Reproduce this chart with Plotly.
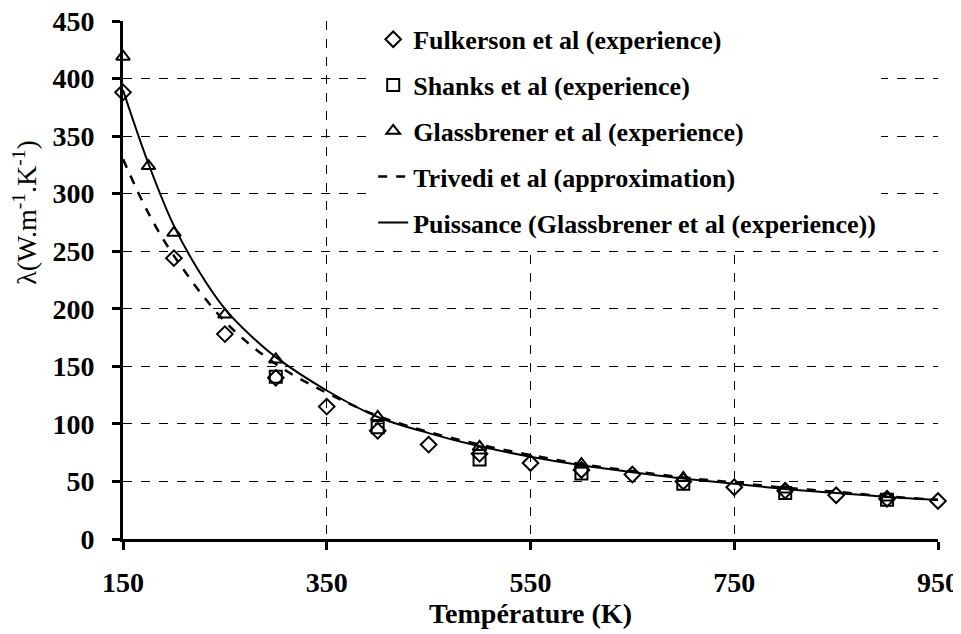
import plotly.graph_objects as go

# Fulkerson et al (experience)
fulk_t = [150, 200, 250, 300, 350, 400, 450, 500, 550, 600, 650, 700, 750, 800, 850, 900, 950]
fulk_k = [388, 244, 178, 140, 115, 94, 82, 74, 66, 60, 56, 50, 45, 42, 38, 35, 33]

# Shanks et al (experience)
shanks_t = [300, 400, 500, 600, 700, 800, 900]
shanks_k = [141, 97, 69, 57, 48, 40, 34]

# Glassbrener et al (experience)
glass_t = [150, 175, 200, 250, 300, 400, 500, 600, 700, 800, 900]
glass_k = [419, 324, 266, 195, 156, 106, 80, 65, 53, 43, 36]

# Trivedi et al (approximation)
triv_t = [150, 175, 200, 250, 300, 350, 400, 450, 500, 550, 600, 650, 700, 750, 800, 850, 900, 950]
triv_k = [330, 283, 246, 189, 152, 127, 107, 93, 82, 73, 65, 59, 53.5, 49, 44.5, 41, 37, 34]

# Puissance (Glassbrener) fit
fit_t = [150, 175, 200, 225, 250, 275, 300, 350, 400, 450, 500, 550, 600, 650, 700, 750, 800, 850, 900, 950]
fit_k = [390, 326, 272, 232, 200, 177, 158, 129, 106, 92, 80.5, 71.5, 64, 58, 52.5, 48, 43.5, 40, 36.5, 34]

FONT = "Liberation Serif, Times New Roman, serif"
_MARKER = dict(color="rgba(0,0,0,0)", size=12, line=dict(color="black", width=2))

fig = go.Figure()
fig.add_trace(go.Scatter(
    x=fulk_t, y=fulk_k, mode="markers", name="Fulkerson et al (experience)",
    marker=dict(symbol="diamond", **_MARKER), legendgroup="a", cliponaxis=False,
))
fig.add_trace(go.Scatter(
    x=shanks_t, y=shanks_k, mode="markers", name="Shanks et al (experience)",
    marker=dict(symbol="square", **_MARKER), legendgroup="b", cliponaxis=False,
))
fig.add_trace(go.Scatter(
    x=glass_t, y=glass_k, mode="markers", name="Glassbrener et al (experience)",
    marker=dict(symbol="triangle-up", **_MARKER), legendgroup="c", cliponaxis=False,
))
fig.add_trace(go.Scatter(
    x=triv_t, y=triv_k, mode="lines", name="Trivedi et al (approximation)",
    line=dict(color="black", width=2.5, dash="dash", shape="spline"), legendgroup="d",
))
fig.add_trace(go.Scatter(
    x=fit_t, y=fit_k, mode="lines", name="Puissance (Glassbrener et al (experience))",
    line=dict(color="black", width=2, shape="spline"), legendgroup="e",
))

# the page body adds an 8px offset, so the figure is drawn 8px smaller
fig.update_layout(
    width=953,
    height=626,
    paper_bgcolor="white",
    plot_bgcolor="white",
    margin=dict(l=115, r=23, t=8, b=95),
    font=dict(family=FONT, color="black"),
    legend=dict(
        x=0.307, y=1.01, xanchor="left", yanchor="top",
        bgcolor="white", font=dict(size=26, family=FONT, weight="bold"),
        traceorder="grouped", tracegroupgap=9, itemwidth=30,
    ),
    annotations=[dict(
        text="λ(W.m<sup>-1</sup>.K<sup>-1</sup>)",
        xref="paper", yref="paper", x=-0.12, y=0.63,
        xanchor="center", yanchor="middle",
        textangle=-90, showarrow=False, font=dict(size=28, family=FONT),
    )],
)
fig.update_xaxes(
    range=[150, 950], tickvals=[150, 350, 550, 750, 950],
    showline=True, linewidth=3, linecolor="black",
    ticks="outside", ticklen=8, tickwidth=3, tickcolor="black",
    ticklabelstandoff=8, ticklabeloverflow="allow",
    tickfont=dict(size=28, family=FONT, weight="bold"),
    showgrid=True, gridcolor="black", gridwidth=1, griddash="dash",
    zeroline=False, automargin=False,
    title=dict(text="Température (K)", font=dict(size=28, family=FONT, weight="bold"), standoff=0),
)
fig.update_yaxes(
    range=[0, 450], dtick=50,
    showline=True, linewidth=3, linecolor="black",
    ticks="outside", ticklen=8, tickwidth=3, tickcolor="black",
    ticklabelstandoff=12, ticklabeloverflow="allow",
    tickfont=dict(size=28, family=FONT, weight="bold"),
    showgrid=True, gridcolor="black", gridwidth=1, griddash="dash",
    zeroline=False, automargin=False,
)

fig.write_html("out.html")
